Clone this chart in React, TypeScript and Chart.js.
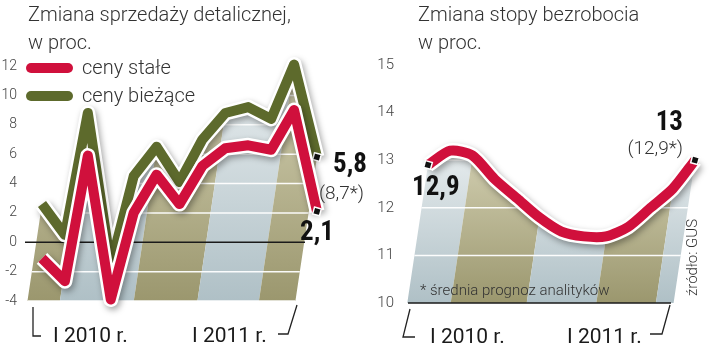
import React, { useEffect, useRef } from 'react';
import { Chart, registerables } from 'chart.js';
Chart.register(...registerables);

// ---------- data ----------
const months = ['I 2010', 'II', 'III', 'IV', 'V', 'VI', 'VII', 'VIII', 'IX', 'X', 'XI', 'XII', 'I 2011'];
const salesConstant = [-1.1, -2.65, 5.9, -3.9, 2.0, 4.6, 2.6, 5.2, 6.4, 6.6, 6.3, 9.0, 2.1];
const salesCurrent = [2.6, 0.5, 8.8, -1.6, 4.5, 6.5, 4.1, 7.0, 8.8, 9.2, 8.4, 12.1, 5.8];
const unemployment = [12.9, 13.2, 13.1, 12.6, 12.2, 11.8, 11.5, 11.4, 11.4, 11.6, 12.0, 12.4, 13.0];
const salesTicks = [-4, -2, 0, 2, 4, 6, 8, 10, 12];
const unempTicks = [10, 11, 12, 13, 14, 15];
const seriesNames = ['ceny stałe', 'ceny bieżące'];
const yearLabels = ['I 2010 r.', 'I 2011 r.'];
const quarterSplits = [2, 5, 8, 11];
const titleLeft = ['Zmiana sprzedaży detalicznej,', 'w proc.'];
const titleRight = ['Zmiana stopy bezrobocia', 'w proc.'];
const salesCurrentLabel = '5,8';
const salesCurrentForecast = '(8,7*)';
const salesConstantLabel = '2,1';
const unempStartLabel = '12,9';
const unempEndLabel = '13';
const unempForecast = '(12,9*)';
const footnote = '* średnia prognoz analityków';
const source = 'źródło: GUS';

const RED = '#d0103c';
const GREEN = '#5d6a2c';
const LIGHT = "300 20px Roboto";
const BOLD = "bold 27px 'Liberation Sans Narrow', 'Roboto Condensed', Roboto";

function bandPlugin(cfg: any) {
  return {
    id: 'bands',
    beforeDatasetsDraw(chart: any) {
      const { ctx, chartArea: ca, scales } = chart;
      const meta = chart.getDatasetMeta(cfg.ref);
      const pts = meta.data;
      const s = cfg.slant;
      const bottom = ca.bottom;
      const foot = (p: any) => p.x - (bottom - p.y) * s;
      const f0 = foot(pts[0]);
      const f1 = foot(pts[pts.length - 1]);
      const minY = Math.min(...pts.map((p: any) => p.y));
      const top = minY - 20;
      ctx.save();
      ctx.beginPath();
      meta.dataset.path(ctx);
      ctx.lineTo(f1, bottom);
      ctx.lineTo(f0, bottom);
      ctx.closePath();
      ctx.clip();
      const edges = [f0 - 40, ...cfg.splits.map((i: number) => foot(pts[i])), f1 + 40];
      const h = bottom - (ca.top - 60);
      for (let k = 0; k < edges.length - 1; k++) {
        const olive = (k % 2 === 0) === cfg.oliveFirst;
        const g = ctx.createLinearGradient(0, bottom, 0, top);
        if (olive) {
          g.addColorStop(0, '#9b976e');
          g.addColorStop(1, '#d9d6ba');
        } else {
          g.addColorStop(0, '#afc0c6');
          g.addColorStop(1, '#eef2f3');
        }
        ctx.fillStyle = g;
        ctx.beginPath();
        ctx.moveTo(edges[k], bottom + 2);
        ctx.lineTo(edges[k + 1], bottom + 2);
        ctx.lineTo(edges[k + 1] + h * s, bottom - h);
        ctx.lineTo(edges[k] + h * s, bottom - h);
        ctx.closePath();
        ctx.fill();
      }
      const y = scales.y;
      ctx.strokeStyle = 'rgba(255,255,255,0.95)';
      ctx.lineWidth = 1.5;
      y.ticks.forEach((t: any) => {
        if (t.value === cfg.baseline) return;
        const py = y.getPixelForValue(t.value);
        ctx.beginPath();
        ctx.moveTo(ca.left - 80, py);
        ctx.lineTo(ca.right + 80, py);
        ctx.stroke();
      });
      ctx.restore();
      const by = y.getPixelForValue(cfg.baseline);
      ctx.save();
      ctx.strokeStyle = '#1a1a1a';
      ctx.lineWidth = 1.5;
      ctx.beginPath();
      ctx.moveTo(ca.left + cfg.baseFrom, by);
      ctx.lineTo(ca.right + cfg.baseTo, by);
      ctx.stroke();
      ctx.restore();
    },
  };
}

const haloPlugin = {
  id: 'halo',
  beforeDatasetDraw(chart: any, args: any) {
    const { ctx } = chart;
    const ds = chart.data.datasets[args.index];
    ctx.save();
    ctx.shadowColor = 'rgba(0,0,0,0.35)';
    ctx.shadowBlur = 6;
    ctx.shadowOffsetX = 2;
    ctx.shadowOffsetY = 3;
    ctx.strokeStyle = '#ffffff';
    ctx.lineWidth = ds.borderWidth + 5;
    ctx.lineJoin = 'round';
    ctx.beginPath();
    args.meta.dataset.path(ctx);
    ctx.stroke();
    ctx.restore();
  },
};

function polyline(ctx: any, pts: number[][]) {
  ctx.beginPath();
  ctx.moveTo(pts[0][0], pts[0][1]);
  for (let i = 1; i < pts.length; i++) ctx.lineTo(pts[i][0], pts[i][1]);
  ctx.stroke();
}

function yScale(min: number, max: number, ticks: number[], width: number, pad: number, size: number) {
  return {
    min,
    max,
    afterBuildTicks: (scale: any) => {
      scale.ticks = ticks.map((v) => ({ value: v }));
    },
    afterFit: (scale: any) => {
      scale.width = width;
    },
    ticks: { padding: pad, color: '#444', font: { family: 'Roboto', weight: '300', size } },
    grid: { display: false },
    border: { display: false },
  };
}

const markerRadius = (idx: number[]) => (c: any) => (idx.includes(c.dataIndex) ? 5 : 0);

export default function App() {
  const leftRef = useRef<HTMLCanvasElement>(null);
  const rightRef = useRef<HTMLCanvasElement>(null);

  useEffect(() => {
    const n = months.length;
    const leftDecor = {
      id: 'decor',
      afterDraw(chart: any) {
        const { ctx } = chart;
        ctx.save();
        ctx.textBaseline = 'alphabetic';
        ctx.textAlign = 'left';
        ctx.fillStyle = '#333';
        ctx.font = LIGHT;
        ctx.fillText(titleLeft[0], 28, 21);
        ctx.fillText(titleLeft[1], 28, 49);
        chart.data.datasets.forEach((ds: any, i: number) => {
          const y = 68 + i * 28;
          ctx.strokeStyle = ds.borderColor;
          ctx.lineWidth = 10;
          ctx.lineCap = 'round';
          ctx.beginPath();
          ctx.moveTo(31, y);
          ctx.lineTo(68, y);
          ctx.stroke();
          ctx.fillStyle = '#333';
          ctx.fillText(ds.label, 82, y + 6);
        });
        ctx.lineCap = 'butt';
        ctx.strokeStyle = '#222';
        ctx.lineWidth = 1.3;
        polyline(ctx, [[33, 307], [33, 336], [41, 336]]);
        polyline(ctx, [[278, 334], [288, 334], [297, 305]]);
        ctx.fillStyle = '#1a1a1a';
        ctx.font = '400 21px Roboto';
        ctx.fillText(yearLabels[0], 53, 342);
        ctx.fillText(yearLabels[1], 192, 342);
        const pc = chart.getDatasetMeta(1).data[n - 1];
        const pr = chart.getDatasetMeta(0).data[n - 1];
        ctx.fillStyle = '#111';
        ctx.font = BOLD;
        ctx.fillText(salesCurrentLabel, pc.x + 16, pc.y + 15);
        ctx.fillText(salesConstantLabel, pr.x - 17, pr.y + 29);
        ctx.fillStyle = '#333';
        ctx.font = '300 19px Roboto';
        ctx.fillText(salesCurrentForecast, pc.x + 2, pc.y + 42);
        ctx.restore();
      },
    };

    const rightDecor = {
      id: 'decor',
      afterDraw(chart: any) {
        const { ctx } = chart;
        ctx.save();
        ctx.textBaseline = 'alphabetic';
        ctx.textAlign = 'left';
        ctx.fillStyle = '#333';
        ctx.font = LIGHT;
        ctx.fillText(titleRight[0], 58, 21);
        ctx.fillText(titleRight[1], 58, 49);
        ctx.strokeStyle = '#222';
        ctx.lineWidth = 1.3;
        polyline(ctx, [[50, 309], [43, 337], [55, 337]]);
        polyline(ctx, [[290, 334], [302, 334], [310, 305]]);
        ctx.fillStyle = '#1a1a1a';
        ctx.font = '400 21px Roboto';
        ctx.fillText(yearLabels[0], 70, 343);
        ctx.fillText(yearLabels[1], 207, 343);
        ctx.fillStyle = '#333';
        ctx.font = '300 15px Roboto';
        ctx.fillText(footnote, 60, 295);
        ctx.save();
        ctx.translate(337, 296);
        ctx.rotate(-Math.PI / 2);
        ctx.fillText(source, 0, 0);
        ctx.restore();
        const meta = chart.getDatasetMeta(0);
        const p0 = meta.data[0];
        const p1 = meta.data[n - 1];
        ctx.fillStyle = '#111';
        ctx.font = BOLD;
        ctx.fillText(unempStartLabel, p0.x - 16, p0.y + 30);
        ctx.textAlign = 'right';
        ctx.fillText(unempEndLabel, p1.x - 12, p1.y - 30);
        ctx.fillStyle = '#333';
        ctx.font = '300 19px Roboto';
        ctx.fillText(unempForecast, p1.x - 12, p1.y - 6);
        ctx.restore();
      },
    };

    const lineDs = (label: string, data: number[], color: string, markers: number[], tension: number) => ({
      label,
      data,
      borderColor: color,
      backgroundColor: color,
      borderWidth: 10,
      borderJoinStyle: 'round',
      tension,
      clip: false,
      fill: false,
      pointStyle: 'rect',
      pointRotation: 15,
      pointRadius: markerRadius(markers),
      pointHoverRadius: markerRadius(markers),
      pointBackgroundColor: '#111',
      pointBorderColor: '#fff',
      pointBorderWidth: 1.5,
    });

    const c1 = new Chart(leftRef.current as HTMLCanvasElement, {
      type: 'line',
      data: {
        labels: months,
        datasets: [
          lineDs(seriesNames[0], salesConstant, RED, [n - 1], 0),
          lineDs(seriesNames[1], salesCurrent, GREEN, [n - 1], 0),
        ],
      } as any,
      options: {
        responsive: false,
        animation: false,
        events: [],
        layout: { padding: { left: 0, right: 63, top: 66, bottom: 51 } },
        plugins: { legend: { display: false }, tooltip: { enabled: false }, title: { display: false } },
        scales: {
          x: { display: false },
          y: yScale(-4, 12, salesTicks, 42, 17, 14),
        } as any,
      },
      plugins: [
        bandPlugin({ ref: 1, slant: 0.15, splits: quarterSplits, oliveFirst: true, baseline: 0, baseFrom: -17, baseTo: -12 }),
        haloPlugin,
        leftDecor,
      ],
    } as any);

    const c2 = new Chart(rightRef.current as HTMLCanvasElement, {
      type: 'line',
      data: {
        labels: months,
        datasets: [lineDs('stopa bezrobocia', unemployment, RED, [0, n - 1], 0.25)],
      } as any,
      options: {
        responsive: false,
        animation: false,
        events: [],
        layout: { padding: { left: 0, right: 25, top: 65, bottom: 49 } },
        plugins: { legend: { display: false }, tooltip: { enabled: false }, title: { display: false } },
        scales: {
          x: { display: false },
          y: yScale(10, 15, unempTicks, 68, 26, 15),
        } as any,
      },
      plugins: [
        bandPlugin({ ref: 0, slant: 0.15, splits: quarterSplits, oliveFirst: false, baseline: 10, baseFrom: -20, baseTo: -24 }),
        haloPlugin,
        rightDecor,
      ],
    } as any);

    return () => {
      c1.destroy();
      c2.destroy();
    };
  }, []);

  return (
    <div style={{ position: 'absolute', left: 0, top: 0, width: 720, height: 352, background: '#fff', overflow: 'hidden' }}>
      <canvas ref={leftRef} width={380} height={352} style={{ position: 'absolute', left: 0, top: 0 }} />
      <canvas ref={rightRef} width={360} height={352} style={{ position: 'absolute', left: 360, top: 0 }} />
    </div>
  );
}
